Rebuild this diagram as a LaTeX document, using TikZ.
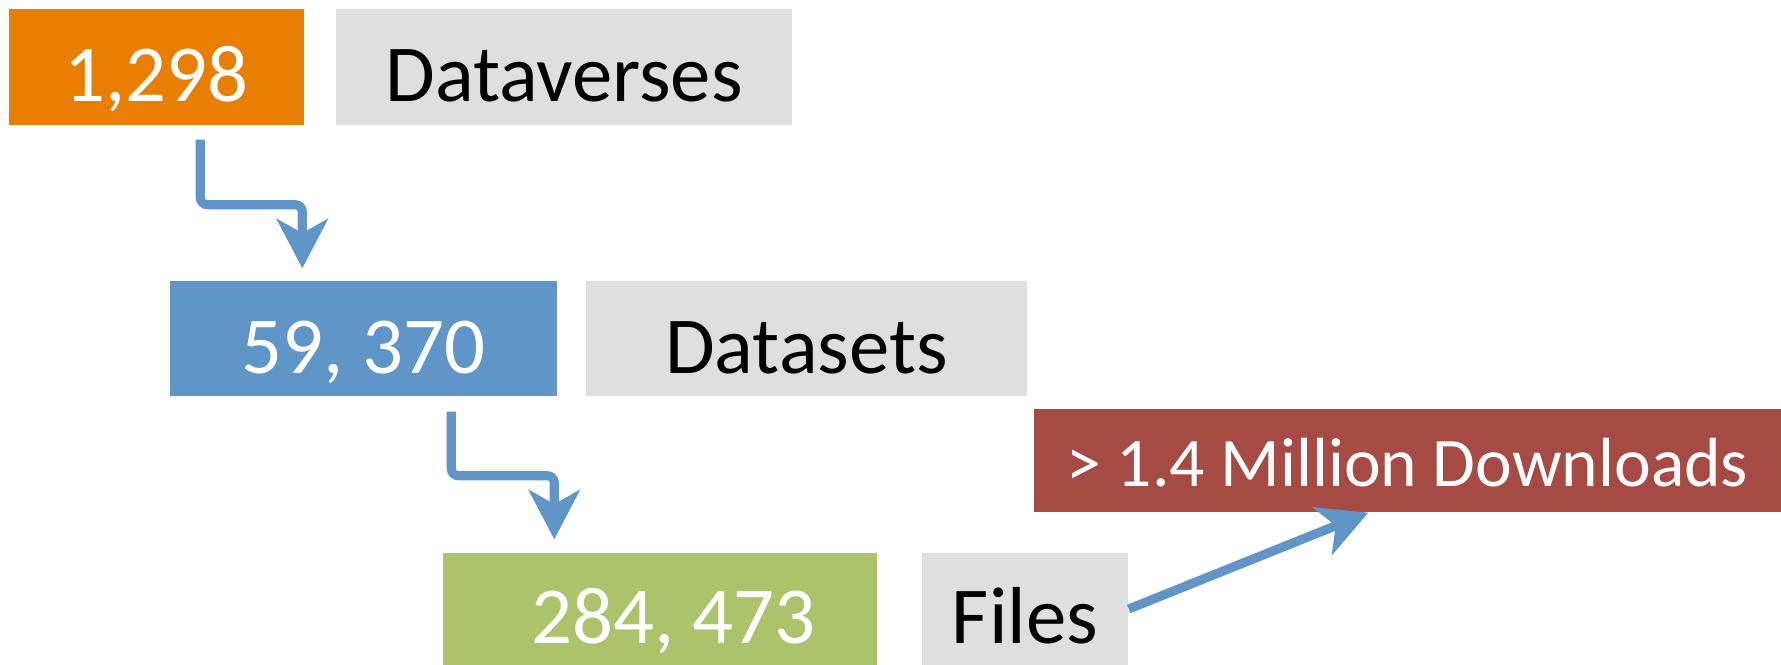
\documentclass[tikz,border=0pt]{standalone}
\usepackage{fontspec}
\setmainfont{Carlito}
\usetikzlibrary{arrows.meta, positioning, calc}

\definecolor{dvorange}{RGB}{233,127,2}
\definecolor{dvblue}{RGB}{96,149,200}
\definecolor{dvgreen}{RGB}{171,196,108}
\definecolor{dvred}{RGB}{166,75,68}
\definecolor{dvgrey}{RGB}{223,223,223}

\begin{document}
\begin{tikzpicture}[
    countbox/.style={inner sep=0pt, text=white, text height=0.7cm, text depth=0cm, font=\fontsize{23}{26}\selectfont},
    labelbox/.style={fill=dvgrey, inner sep=0pt, text=black, text height=0.7cm, text depth=0cm, font=\fontsize{23}{26}\selectfont},
    flow/.style={draw=dvblue, line width=2.6pt, rounded corners=2pt,
        -{Stealth[length=14pt, width=14.5pt, inset=4pt]}}
]
    \useasboundingbox (0,0) rectangle (17.81,6.65);

    % Counts
    \node[countbox, fill=dvorange, minimum width=2.95cm, minimum height=1.16cm] (dataverses) at (1.565,5.98) {1,298};
    \node[countbox, fill=dvblue, minimum width=3.87cm, minimum height=1.15cm] (datasets) at (3.635,3.265) {59, 370};
    \node[countbox, fill=dvgreen, minimum width=4.34cm, minimum height=1.12cm] (files) at (6.60,0.56) {\hspace{0.27cm}284, 473};
    \node[countbox, fill=dvred, minimum width=7.47cm, minimum height=1.03cm, text height=0.53cm,
        font=\fontsize{19.8}{23}\selectfont] (downloads) at (14.075,2.045) {> 1.4 Million Downloads};

    % Labels
    \node[labelbox, minimum width=4.56cm, minimum height=1.16cm] (dvlabel) at (5.64,5.98) {Dataverses};
    \node[labelbox, minimum width=4.41cm, minimum height=1.15cm] (dslabel) at (8.065,3.265) {Datasets};
    \node[labelbox, minimum width=2.06cm, minimum height=1.12cm] (fllabel) at (10.25,0.56) {Files};

    % Arrows
    \draw[flow] ([shift={(1.92,-0.14)}]dataverses.south west) -- ++(0,-0.65) -| ([shift={(1.33,0.12)}]datasets.north west);
    \draw[flow] ([shift={(2.82,-0.15)}]datasets.south west) -- ++(0,-0.64) -| ([shift={(1.12,0.13)}]files.north west);
    \draw[flow] (fllabel.east) -- ([xshift=3.35cm]downloads.south west);
\end{tikzpicture}
\end{document}
